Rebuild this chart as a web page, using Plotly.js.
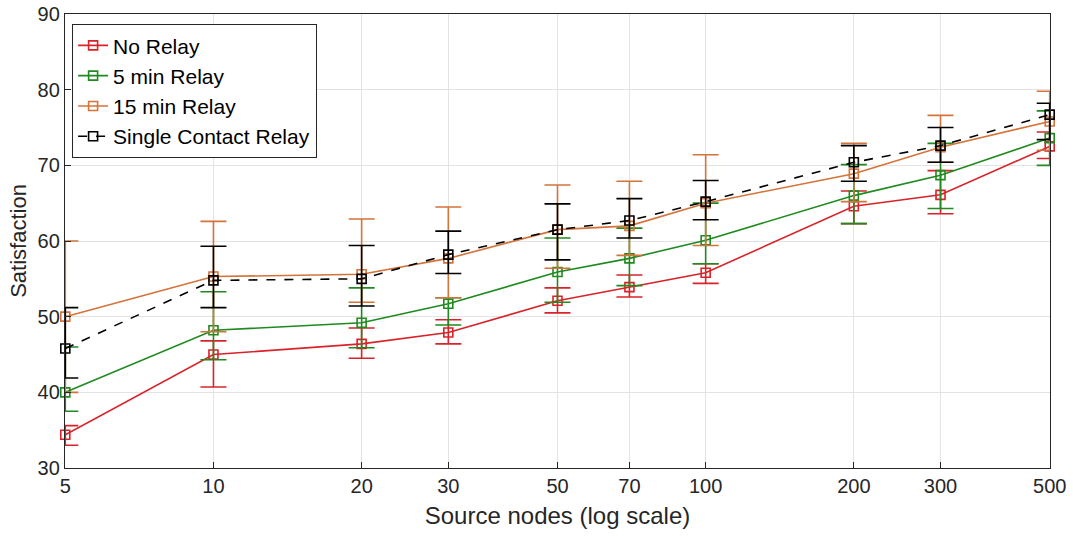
<!DOCTYPE html>
<html>
<head>
<meta charset="utf-8">
<script src="https://cdn.plot.ly/plotly-3.0.1.min.js"></script>
<style>html,body{margin:0;padding:0;background:#fff;}#chart{width:1073px;height:536px;}</style>
</head>
<body>
<div id="chart"></div>
<script>
var sourceNodes = [5, 10, 20, 30, 50, 70, 100, 200, 300, 500];
var tickLabels = ["5", "10", "20", "30", "50", "70", "100", "200", "300", "500"];

var noRelay   = [34.4, 45.0, 46.4, 47.9, 52.1, 53.9, 55.8, 64.6, 66.1, 72.5];
var noRelayUp = [35.6, 46.8, 48.5, 49.6, 53.8, 55.5, 57.0, 66.6, 69.3, 74.4];
var noRelayLo = [33.0, 40.7, 44.5, 46.4, 50.5, 52.6, 54.4, 62.3, 63.6, 70.9];

var relay5   = [40.0, 48.2, 49.2, 51.7, 55.9, 57.7, 60.1, 66.0, 68.7, 73.6];
var relay5Up = [46.0, 53.3, 53.8, 52.5, 60.4, 61.7, 65.0, 70.1, 72.9, 77.2];
var relay5Lo = [37.5, 44.3, 45.9, 48.9, 51.9, 54.1, 57.0, 62.3, 64.3, 70.0];

var relay15   = [50.0, 55.3, 55.6, 57.7, 61.5, 62.0, 65.0, 68.9, 72.4, 75.8];
var relay15Up = [60.0, 62.6, 62.9, 64.5, 67.4, 67.9, 71.4, 72.9, 76.6, 79.8];
var relay15Lo = [40.0, 48.0, 51.9, 52.5, 56.4, 58.1, 59.4, 65.2, 70.4, 72.0];

var singleRelay   = [45.8, 54.8, 55.0, 58.2, 61.5, 62.7, 65.2, 70.4, 72.6, 76.7];
var singleRelayUp = [51.2, 59.3, 59.4, 61.3, 64.9, 65.6, 68.0, 72.6, 75.0, 78.2];
var singleRelayLo = [41.9, 51.2, 51.4, 55.7, 57.5, 60.4, 62.8, 67.9, 70.4, 73.4];

var seriesNames = ["No Relay", "5 min Relay", "15 min Relay", "Single Contact Relay"];

function mkTrace(name, y, up, lo, color, dash) {
  return {
    type: 'scatter', mode: 'lines+markers', name: name,
    x: sourceNodes, y: y,
    line: {color: color, width: 1.6, dash: dash},
    marker: {symbol: 'square-open', size: 9, color: color, line: {color: color, width: 1.6}},
    error_y: {
      type: 'data', symmetric: false,
      array: up.map(function(v, i){ return v - y[i]; }),
      arrayminus: lo.map(function(v, i){ return y[i] - v; }),
      color: color, thickness: 1.6, width: 13
    },
    cliponaxis: false
  };
}

var data = [
  mkTrace(seriesNames[0], noRelay, noRelayUp, noRelayLo, '#d9232a', 'solid'),
  mkTrace(seriesNames[1], relay5, relay5Up, relay5Lo, '#1f8a1f', 'solid'),
  mkTrace(seriesNames[2], relay15, relay15Up, relay15Lo, '#d4733a', 'solid'),
  mkTrace(seriesNames[3], singleRelay, singleRelayUp, singleRelayLo, '#000000', 'dash')
];

var tickFont = {size: 20, family: 'Liberation Sans, Arial, sans-serif', color: '#262626'};

var layout = {
  width: 1073, height: 536,
  margin: {l: 65, r: 23, t: 14, b: 68},
  paper_bgcolor: '#ffffff', plot_bgcolor: '#ffffff',
  font: {family: 'Liberation Sans, Arial, sans-serif', color: '#262626'},
  showlegend: true,
  legend: {
    x: 0.007, y: 0.978, xanchor: 'left', yanchor: 'top',
    bgcolor: '#ffffff', bordercolor: '#262626', borderwidth: 1.2,
    font: {size: 21, color: '#000000', family: 'Liberation Sans, Arial, sans-serif'},
    tracegroupgap: 0, itemwidth: 30
  },
  xaxis: {
    type: 'log',
    range: [Math.log10(5) - 0.0006, Math.log10(500) + 0.0006],
    tickmode: 'array', tickvals: sourceNodes, ticktext: tickLabels,
    ticks: 'inside', ticklen: 6, tickcolor: '#262626', tickwidth: 1,
    showgrid: true, gridcolor: '#e3e3e3', gridwidth: 1,
    showline: true, linecolor: '#262626', linewidth: 1.2, mirror: true,
    zeroline: false,
    tickfont: tickFont,
    title: {text: 'Source nodes (log scale)', font: {size: 24, color: '#262626'}, standoff: 11}
  },
  yaxis: {
    range: [30, 90], tickmode: 'linear', tick0: 30, dtick: 10,
    ticks: 'inside', ticklen: 6, tickcolor: '#262626', tickwidth: 1,
    showgrid: true, gridcolor: '#e3e3e3', gridwidth: 1,
    showline: true, linecolor: '#262626', linewidth: 1.2, mirror: true,
    zeroline: false,
    tickfont: tickFont,
    title: {text: 'Satisfaction', font: {size: 22, color: '#262626'}, standoff: 4}
  }
};

Plotly.newPlot('chart', data, layout, {displayModeBar: false, staticPlot: true});
</script>
</body>
</html>
